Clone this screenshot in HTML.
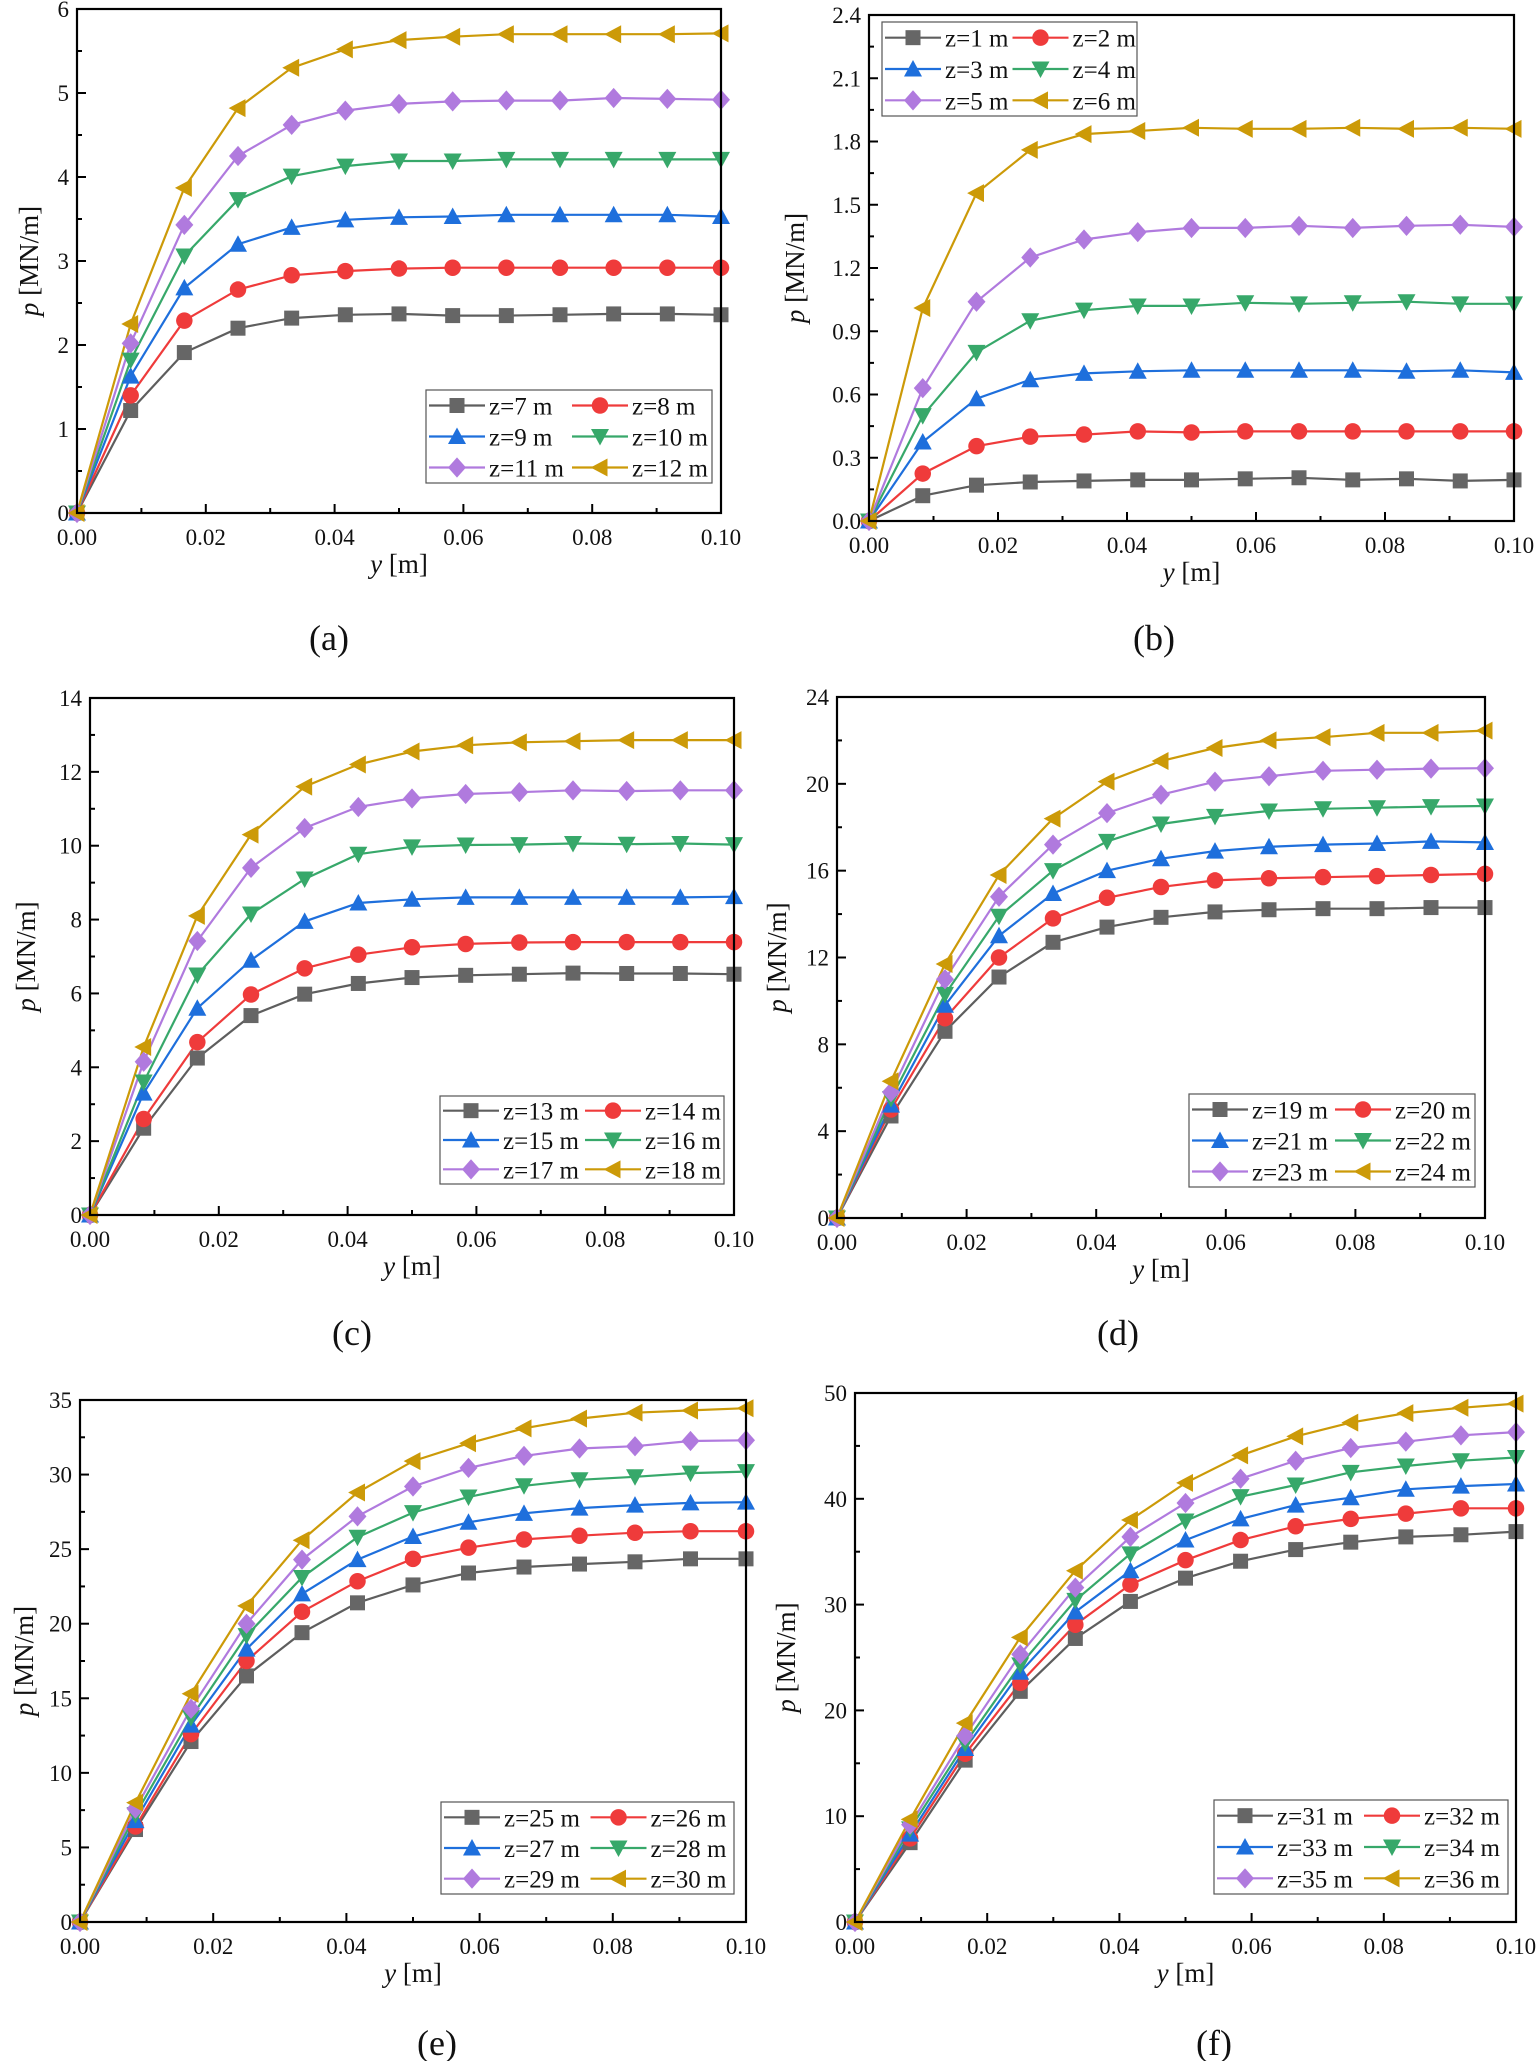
<!DOCTYPE html>
<html><head><meta charset="utf-8"><style>
html,body{margin:0;padding:0;background:#fff;}
svg{display:block;}
text{font-family:"Liberation Serif","DejaVu Serif",serif;fill:#111;}
</style></head><body>
<svg id="s" xmlns="http://www.w3.org/2000/svg" width="1536" height="2061" viewBox="0 0 1536 2061" font-family="Liberation Serif, DejaVu Serif, serif"></svg>
<script>
const S=document.getElementById('s');const NS='http://www.w3.org/2000/svg';
function el(t,a,p){const e=document.createElementNS(NS,t);for(const k in a)e.setAttribute(k,a[k]);(p||S).appendChild(e);return e;}
function tx(x,y,s,a){const e=el('text',Object.assign({x:x,y:y,'font-family':'Liberation Serif, DejaVu Serif, serif'},a));e.innerHTML=s;return e;}
const COL=['#5e5e5e','#ef3b3b','#1e6fdc','#37a86a','#b07ade','#cc9a08'];
const MCOL=['#666666','#ef3b3b','#1e6fdc','#37a86a','#b07ade','#cc9a08'];
function marker(g,k,x,y,r){const c=MCOL[k];
 if(k==0)el('rect',{x:x-r,y:y-r,width:2*r,height:2*r,fill:c},g);
 else if(k==1)el('circle',{cx:x,cy:y,r:r*1.1,fill:c},g);
 else if(k==2)el('polygon',{points:`${x},${y-r*1.2} ${x+r*1.2},${y+r} ${x-r*1.2},${y+r}`,fill:c},g);
 else if(k==3)el('polygon',{points:`${x},${y+r*1.2} ${x+r*1.2},${y-r} ${x-r*1.2},${y-r}`,fill:c},g);
 else if(k==4)el('polygon',{points:`${x},${y-r*1.35} ${x+r*1.2},${y} ${x},${y+r*1.35} ${x-r*1.2},${y}`,fill:c},g);
 else el('polygon',{points:`${x-r*1.25},${y} ${x+r},${y-r*1.2} ${x+r},${y+r*1.2}`,fill:c},g);
}
const P=[
 {L:77,R:721,T:9,B:513,ymax:6,yt:[0,1,2,3,4,5,6],dec:0,lab:'(a)',lx:329,ly:650,yl:29,z0:7,
  leg:[426,390,712,483],
  d:[[0,1.22,1.91,2.2,2.32,2.36,2.37,2.35,2.35,2.36,2.37,2.37,2.36],
     [0,1.4,2.29,2.66,2.83,2.88,2.91,2.92,2.92,2.92,2.92,2.92,2.92],
     [0,1.63,2.68,3.2,3.4,3.49,3.52,3.53,3.55,3.55,3.55,3.55,3.53],
     [0,1.82,3.06,3.73,4.01,4.13,4.19,4.19,4.21,4.21,4.21,4.21,4.21],
     [0,2.02,3.43,4.25,4.62,4.79,4.87,4.9,4.91,4.91,4.94,4.93,4.92],
     [0,2.25,3.87,4.82,5.3,5.52,5.63,5.67,5.7,5.7,5.7,5.7,5.71]]},
 {L:869,R:1514,T:15,B:521,ymax:2.4,yt:[0,0.3,0.6,0.9,1.2,1.5,1.8,2.1,2.4],dec:1,lab:'(b)',lx:1154,ly:650,yl:795,z0:1,
  leg:[882,22,1137,116],
  d:[[0,.12,.17,.185,.19,.195,.195,.2,.205,.195,.2,.19,.195],
     [0,.225,.355,.4,.41,.425,.42,.425,.425,.425,.425,.425,.425],
     [0,.375,.58,.67,.7,.71,.715,.715,.715,.715,.71,.715,.705],
     [0,.5,.8,.95,1.0,1.02,1.02,1.035,1.03,1.035,1.04,1.03,1.03],
     [0,.63,1.04,1.25,1.335,1.37,1.39,1.39,1.4,1.39,1.4,1.405,1.395],
     [0,1.01,1.555,1.76,1.835,1.85,1.865,1.86,1.86,1.865,1.86,1.865,1.86]]},
 {L:90,R:734,T:698,B:1215,ymax:14,yt:[0,2,4,6,8,10,12,14],dec:0,lab:'(c)',lx:352,ly:1345,yl:26,z0:13,
  leg:[440,1096,724,1184],
  d:[[0,2.35,4.25,5.4,5.98,6.27,6.43,6.49,6.52,6.55,6.54,6.54,6.52],
     [0,2.6,4.68,5.97,6.68,7.05,7.25,7.34,7.38,7.39,7.39,7.39,7.39],
     [0,3.3,5.6,6.9,7.95,8.45,8.55,8.6,8.6,8.6,8.6,8.6,8.62],
     [0,3.6,6.5,8.15,9.1,9.77,9.97,10.02,10.03,10.06,10.04,10.06,10.03],
     [0,4.15,7.42,9.4,10.48,11.05,11.28,11.4,11.45,11.5,11.48,11.5,11.5],
     [0,4.55,8.1,10.3,11.6,12.2,12.55,12.72,12.8,12.83,12.86,12.86,12.86]]},
 {L:837,R:1485,T:697,B:1218,ymax:24,yt:[0,4,8,12,16,20,24],dec:0,lab:'(d)',lx:1118,ly:1345,yl:777,z0:19,
  leg:[1189,1094,1475,1187],
  d:[[0,4.7,8.6,11.1,12.7,13.4,13.85,14.1,14.2,14.25,14.25,14.3,14.3],
     [0,5.0,9.2,12.0,13.8,14.75,15.25,15.55,15.65,15.7,15.75,15.8,15.85],
     [0,5.2,9.8,13.0,14.95,16.0,16.55,16.9,17.1,17.2,17.25,17.35,17.3],
     [0,5.5,10.3,13.9,16.0,17.35,18.15,18.5,18.75,18.85,18.9,18.95,18.98],
     [0,5.8,11.0,14.8,17.2,18.65,19.5,20.1,20.35,20.6,20.65,20.7,20.72],
     [0,6.3,11.7,15.8,18.4,20.1,21.05,21.65,22.0,22.15,22.35,22.35,22.45]]},
 {L:80,R:746,T:1400,B:1922,ymax:35,yt:[0,5,10,15,20,25,30,35],dec:0,lab:'(e)',lx:437,ly:2055,yl:24,z0:25,
  leg:[441,1802,734,1894],
  d:[[0,6.2,12.1,16.5,19.4,21.4,22.6,23.4,23.8,24.0,24.15,24.35,24.35],
     [0,6.4,12.6,17.5,20.8,22.85,24.35,25.1,25.65,25.9,26.1,26.2,26.2],
     [0,6.8,13.2,18.3,22.0,24.3,25.85,26.8,27.4,27.75,27.95,28.1,28.15],
     [0,7.2,13.7,19.2,23.1,25.8,27.45,28.5,29.25,29.65,29.85,30.1,30.2],
     [0,7.6,14.3,20.0,24.3,27.2,29.2,30.45,31.25,31.75,31.9,32.25,32.3],
     [0,8.0,15.3,21.2,25.6,28.8,30.9,32.1,33.1,33.75,34.15,34.3,34.45]]},
 {L:855,R:1516,T:1393,B:1922,ymax:50,yt:[0,10,20,30,40,50],dec:0,lab:'(f)',lx:1214,ly:2055,yl:786,z0:31,
  leg:[1214,1800,1508,1894],
  d:[[0,7.5,15.3,21.8,26.8,30.3,32.5,34.1,35.2,35.9,36.4,36.6,36.9],
     [0,7.9,15.9,22.6,28.1,31.9,34.2,36.1,37.4,38.1,38.6,39.1,39.1],
     [0,8.3,16.4,23.6,29.3,33.2,36.1,38.1,39.4,40.1,40.9,41.2,41.4],
     [0,8.8,16.9,24.3,30.4,34.8,37.9,40.2,41.3,42.5,43.1,43.6,43.9],
     [0,9.2,17.6,25.3,31.6,36.4,39.6,41.9,43.6,44.8,45.4,46.0,46.3],
     [0,9.7,18.8,26.9,33.2,38.0,41.5,44.1,45.9,47.2,48.1,48.6,49.0]]}
];
for(const p of P){
 const W=p.R-p.L,H=p.B-p.T;
 const X=v=>p.L+v/0.1*W, Y=v=>p.B-v/p.ymax*H;
 const g=el('g',{});
 for(let k=0;k<6;k++){
  const pts=p.d[k].map((v,i)=>X(i/120).toFixed(1)+','+Y(v).toFixed(1)).join(' ');
  el('polyline',{points:pts,fill:'none',stroke:COL[k],'stroke-width':2.2},g);
 }
 for(let k=0;k<6;k++) p.d[k].forEach((v,i)=>marker(g,k,X(i/120),Y(v),7.5));
 el('rect',{x:p.L,y:p.T,width:W,height:H,fill:'none',stroke:'#000','stroke-width':2.2});
 for(let i=0;i<=10;i++){const x=X(i*0.01);const len=i%2?5:9;
  el('line',{x1:x,y1:p.B,x2:x,y2:p.B-len,stroke:'#000','stroke-width':2});
  if(i%2==0)tx(x,p.B+32,(i*0.01).toFixed(2),{'font-size':23,'text-anchor':'middle'});}
 const st=p.yt[1]-p.yt[0];
 for(let j=0;j<p.yt.length;j++){const y=Y(p.yt[j]);
  el('line',{x1:p.L,y1:y,x2:p.L+9,y2:y,stroke:'#000','stroke-width':2});
  tx(p.L-8,y+8,p.yt[j].toFixed(p.dec),{'font-size':23,'text-anchor':'end'});
  if(j<p.yt.length-1){const ym=Y(p.yt[j]+st/2);el('line',{x1:p.L,y1:ym,x2:p.L+5,y2:ym,stroke:'#000','stroke-width':2});}}
 tx((p.L+p.R)/2,p.B+60,'<tspan font-style="italic">y</tspan> [m]',{'font-size':27,'text-anchor':'middle'});
 const cy=(p.T+p.B)/2;
 tx(p.yl+9,cy,'<tspan font-style="italic">p</tspan>  [MN/m]',{'font-size':27,'text-anchor':'middle',transform:`rotate(-90 ${p.yl+9} ${cy})`});
 tx(p.lx,p.ly,p.lab,{'font-size':36,'text-anchor':'middle'});
 const [lx,ly,rx,by]=p.leg;
 el('rect',{x:lx,y:ly,width:rx-lx,height:by-ly,fill:'#fff',stroke:'#555','stroke-width':1.2});
 const cw=(rx-lx)/2, rh=(by-ly)/3;
 for(let k=0;k<6;k++){const c=k%2,r=Math.floor(k/2);
  const x0=lx+3+c*cw, y0=ly+rh*(r+0.5);
  el('line',{x1:x0,y1:y0,x2:x0+56,y2:y0,stroke:COL[k],'stroke-width':2.2});
  marker(S,k,x0+28,y0,7.5);
  tx(x0+60,y0+9,'z='+(p.z0+k)+' m',{'font-size':25});}
}
</script>
</body></html>
